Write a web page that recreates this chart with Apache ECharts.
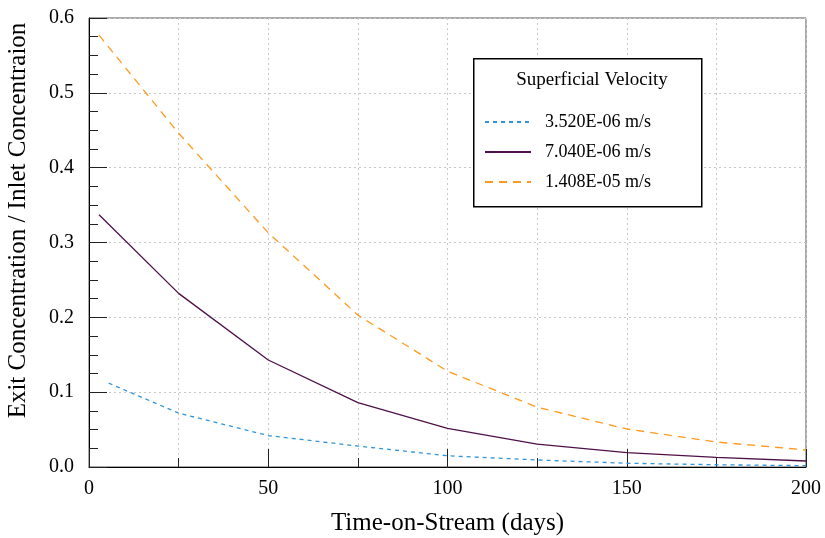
<!DOCTYPE html>
<html>
<head>
<meta charset="utf-8">
<script src="https://cdn.jsdelivr.net/npm/echarts@6/dist/echarts.min.js"></script>
<style>
  html, body { margin: 0; padding: 0; background: #fff; }
  #chart { width: 825px; height: 538px; }
</style>
</head>
<body>
<div id="chart"></div>
<script>
// Data
var seriesNames = ['3.520E-06 m/s', '7.040E-06 m/s', '1.408E-05 m/s'];
var legendTitle = 'Superficial Velocity';
var xTitle = 'Time-on-Stream (days)';
var yTitle = 'Exit Concentration / Inlet Concentraion';

var daysLow = [5.5, 25, 50, 75, 100, 125, 150, 175, 200];
var valuesLow = [0.112, 0.072, 0.042, 0.028, 0.015, 0.0094, 0.005, 0.003, 0.0018];

var daysMid = [2.8, 25, 50, 75, 100, 125, 150, 175, 200];
var valuesMid = [0.337, 0.232, 0.143, 0.086, 0.0517, 0.0307, 0.0191, 0.0129, 0.008];

var daysHigh = [2.8, 25, 50, 75, 100, 125, 150, 175, 200];
var valuesHigh = [0.577, 0.446, 0.313, 0.203, 0.128, 0.080, 0.0508, 0.0334, 0.0227];

function pairs(xs, ys) { return xs.map(function (x, i) { return [x, ys[i]]; }); }

var font = 'Liberation Serif';
var chart = echarts.init(document.getElementById('chart'), null, { renderer: 'canvas' });

var option = {
  animation: false,
  backgroundColor: '#ffffff',
  grid: { left: 89, right: 19, top: 18, bottom: 71, outerBoundsMode: 'none', containLabel: false,
    show: true, borderColor: '#555', borderWidth: 1, backgroundColor: 'transparent' },
  title: {
    text: legendTitle, left: 587, top: 66, textAlign: 'center', z: 10,
    textStyle: { fontFamily: font, fontSize: 19, fontWeight: 'normal', color: '#000' }
  },
  xAxis: {
    type: 'value', min: 0, max: 200, interval: 50,
    name: xTitle, nameLocation: 'middle', nameGap: 44,
    nameTextStyle: { fontFamily: font, fontSize: 25, color: '#000' },
    axisLine: { show: true, lineStyle: { color: '#000', width: 1 } },
    axisTick: { show: true, inside: true, length: 18, lineStyle: { color: '#222' } },
    minorTick: { show: true, splitNumber: 2, length: 9, lineStyle: { color: '#222' } },
    axisLabel: { fontFamily: font, fontSize: 20, color: '#000', margin: 12 },
    splitLine: { show: true, lineStyle: { color: '#c8c8c8', type: [2, 3], width: 1 } },
    minorSplitLine: { show: true, lineStyle: { color: '#c8c8c8', type: [2, 3], width: 1 } }
  },
  yAxis: {
    type: 'value', min: 0, max: 0.6, interval: 0.1,
    name: yTitle, nameLocation: 'middle', nameGap: 58,
    nameTextStyle: { fontFamily: font, fontSize: 25, color: '#000', padding: [0, 0, 0, 44] },
    axisLine: { show: true, lineStyle: { color: '#000', width: 1 } },
    axisTick: { show: true, inside: true, length: 18, lineStyle: { color: '#222' } },
    minorTick: { show: true, splitNumber: 4, length: 9, lineStyle: { color: '#222' } },
    axisLabel: { fontFamily: font, fontSize: 20, color: '#000', margin: 15,
      formatter: function (v) { return v.toFixed(1); } },
    splitLine: { show: true, lineStyle: { color: '#c8c8c8', type: [2, 3], width: 1 } },
    minorSplitLine: { show: false }
  },
  legend: {
    orient: 'vertical', left: 479, top: 108, z: 10,
    itemWidth: 46, itemHeight: 14, itemGap: 12,
    itemStyle: { opacity: 0 },
    textStyle: { fontFamily: font, fontSize: 18, color: '#000', padding: [0, 0, 0, 9] },
    data: seriesNames
  },
  graphic: [
    { type: 'rect', left: 473, top: 58, shape: { width: 228, height: 148 },
      style: { fill: '#fff', stroke: '#000', lineWidth: 1.5 }, z: 5 }
  ],
  series: [
    { name: seriesNames[0], type: 'line', data: pairs(daysLow, valuesLow), symbol: 'none',
      lineStyle: { color: '#2f95d6', width: 1.3, type: [4, 4] }, itemStyle: { color: '#2f95d6' } },
    { name: seriesNames[1], type: 'line', data: pairs(daysMid, valuesMid), symbol: 'none',
      lineStyle: { color: '#4e1049', width: 1.3, type: 'solid' }, itemStyle: { color: '#4e1049' } },
    { name: seriesNames[2], type: 'line', data: pairs(daysHigh, valuesHigh), symbol: 'none',
      lineStyle: { color: '#ff9a1c', width: 1.3, type: [8, 6] }, itemStyle: { color: '#ff9a1c' } }
  ]
};
chart.setOption(option);
</script>
</body>
</html>
